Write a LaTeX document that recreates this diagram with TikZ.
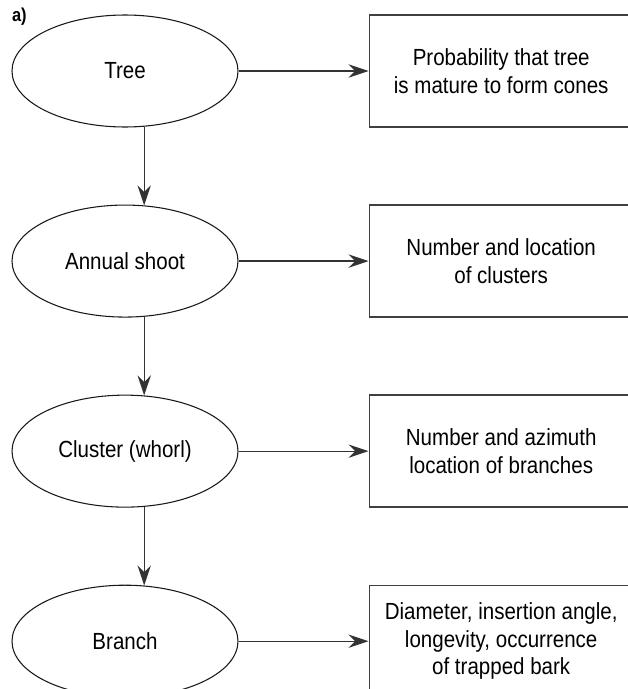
\documentclass[tikz,border=0pt]{standalone}
\usepackage{fontspec}
\setmainfont{Liberation Sans}[FakeStretch=0.88]
\usetikzlibrary{shapes.geometric,positioning,arrows.meta}
\tikzset{level/.style={draw=black!90, ellipse, minimum width=169.5pt, minimum height=84pt, inner sep=0pt, line width=0.8pt}}
\tikzset{outcome/.style={draw=black!75, rectangle, minimum width=198pt, minimum height=84pt, inner sep=0pt, align=center, line width=1pt}}

\begin{document}
\begin{tikzpicture}[node distance=57.75pt and 97.5pt, font=\fontsize{17.5}{20.5}\selectfont,
  >={Stealth[length=15pt,width=10pt,inset=5pt]}, line width=0.9pt]
\useasboundingbox (0,0) rectangle (471pt,-516.75pt);
% levels of the tree
\node[level] (tree) at (93.75pt,-53.25pt) {Tree};
\node[level, below=of tree] (shoot) {Annual shoot};
\node[level, below=of shoot] (cluster) {Cluster (whorl)};
\node[level, below=of cluster] (branch) {Branch};
% what is modelled at each level
\node[outcome, right=of tree] (mature) {Probability that tree\\is mature to form cones};
\node[outcome, right=of shoot] (clusters) {Number and location\\of clusters};
\node[outcome, right=of cluster] (branches) {Number and azimuth\\location of branches};
\node[outcome, right=of branch] (traits) {Diameter, insertion angle,\\longevity, occurrence\\of trapped bark};
\node[font=\bfseries\fontsize{14}{16}\selectfont] (panel) at (14.5pt,-12.5pt) {a)};
\draw [->, draw=black!80] (tree) -- (mature);
\draw [->, draw=black!80] (shoot) -- (clusters);
\draw [->, draw=black!80] (cluster) -- (branches);
\draw [->, draw=black!80] (branch) -- (traits);
\draw [->, draw=black!80] (tree.-71) -- (shoot.71);
\draw [->, draw=black!80] (shoot.-71) -- (cluster.71);
\draw [->, draw=black!80] (cluster.-71) -- (branch.71);
\end{tikzpicture}
\end{document}
